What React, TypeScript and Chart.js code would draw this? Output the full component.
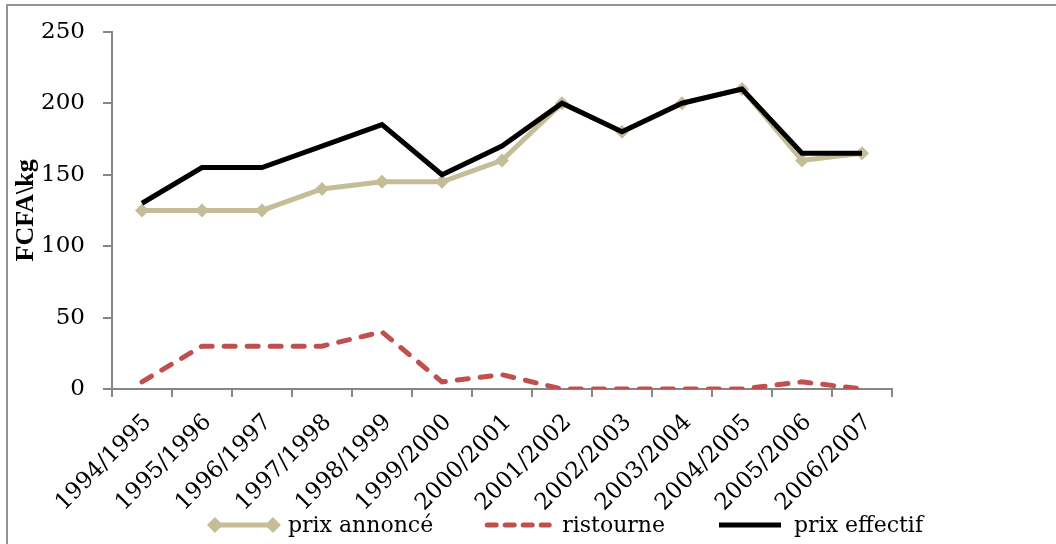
import React, { useEffect, useRef } from "react";
import { Chart, registerables } from "chart.js";

Chart.register(...registerables);

const categories = [
  "1994/1995", "1995/1996", "1996/1997", "1997/1998", "1998/1999", "1999/2000",
  "2000/2001", "2001/2002", "2002/2003", "2003/2004", "2004/2005", "2005/2006", "2006/2007",
];
const prixAnnonce = [125, 125, 125, 140, 145, 145, 160, 200, 180, 200, 210, 160, 165];
const ristourne = [5, 30, 30, 30, 40, 5, 10, 0, 0, 0, 0, 5, 0];
const prixEffectif = [130, 155, 155, 170, 185, 150, 170, 200, 180, 200, 210, 165, 165];
const yTicks = [0, 50, 100, 150, 200, 250];
const yTitle = "FCFA\\kg";
const legendOrder = ["prix annoncé", "ristourne", "prix effectif"];

const FONT = "'DejaVu Serif', serif";
const AXIS = "#868686";

const legendPlugin = {
  id: "customLegend",
  afterDraw(chart: any) {
    const ctx = chart.ctx;
    ctx.save();
    ctx.font = `22px ${FONT}`;
    ctx.textBaseline = "middle";
    ctx.fillStyle = "#000";
    const y = 525;
    const sample = 70;
    const gap = 9;
    const spacing = 50;
    const items = legendOrder.map((l) => chart.data.datasets.find((d: any) => d.label === l));
    const widths = items.map((d: any) => sample + gap + ctx.measureText(d.label).width);
    const total = widths.reduce((a: number, b: number) => a + b, 0) + spacing * (items.length - 1);
    let x = 566 - total / 2;
    items.forEach((d: any, i: number) => {
      ctx.save();
      ctx.strokeStyle = d.borderColor;
      ctx.lineWidth = d.borderWidth;
      ctx.lineCap = d.borderCapStyle || "butt";
      ctx.setLineDash(d.borderDash ? [9, 9] : []);
      ctx.beginPath();
      ctx.moveTo(x + 4, y);
      ctx.lineTo(x + sample - 4, y);
      ctx.stroke();
      ctx.setLineDash([]);
      if (d.pointRadius > 0) {
        ctx.fillStyle = d.pointBackgroundColor;
        [x + 6, x + sample - 6].forEach((px) => {
          const r = d.pointRadius + 1;
          ctx.beginPath();
          ctx.moveTo(px, y - r);
          ctx.lineTo(px + r, y);
          ctx.lineTo(px, y + r);
          ctx.lineTo(px - r, y);
          ctx.closePath();
          ctx.fill();
        });
      }
      ctx.restore();
      ctx.fillText(d.label, x + sample + gap, y + 1);
      x += widths[i] + spacing;
    });
    ctx.restore();
  },
};

export default function App() {
  const ref = useRef<HTMLCanvasElement>(null);
  useEffect(() => {
    document.body.style.margin = "0";
    const chart = new Chart(ref.current!, {
      type: "line",
      data: {
        labels: categories,
        datasets: [
          {
            label: "prix annoncé",
            data: prixAnnonce,
            borderColor: "#C4BD97",
            backgroundColor: "#C4BD97",
            pointBackgroundColor: "#C4BD97",
            pointBorderColor: "#C4BD97",
            pointStyle: "rectRot",
            pointRadius: 7,
            pointBorderWidth: 0,
            borderWidth: 5,
            tension: 0,
            order: 3,
          },
          {
            label: "ristourne",
            data: ristourne,
            borderColor: "#C0504D",
            backgroundColor: "#C0504D",
            borderDash: [11, 12],
            borderCapStyle: "round",
            pointRadius: 0,
            borderWidth: 5,
            tension: 0,
            order: 2,
          },
          {
            label: "prix effectif",
            data: prixEffectif,
            borderColor: "#000000",
            backgroundColor: "#000000",
            pointRadius: 0,
            borderWidth: 5,
            tension: 0,
            order: 1,
          },
        ],
      },
      options: {
        animation: false,
        responsive: false,
        layout: { padding: { left: 0, right: 164, top: 31, bottom: 0 } },
        plugins: { legend: { display: false }, tooltip: { enabled: false } },
        scales: {
          x: {
            offset: true,
            grid: { offset: true, drawOnChartArea: false, drawTicks: true, tickLength: 8, color: AXIS, lineWidth: 2 },
            border: { display: true, color: AXIS, width: 2 },
            ticks: {
              color: "#000",
              font: { family: FONT, size: 23 },
              maxRotation: 45,
              minRotation: 45,
              padding: 12,
              labelOffset: 6,
              autoSkip: false,
            },
            afterFit: (s: any) => {
              s.height = 155;
            },
          },
          y: {
            min: 0,
            max: 250,
            afterBuildTicks: (s: any) => {
              s.ticks = yTicks.map((v) => ({ value: v }));
            },
            grid: { drawOnChartArea: false, drawTicks: true, tickLength: 9, color: AXIS, lineWidth: 2 },
            border: { display: true, color: AXIS, width: 2 },
            ticks: { color: "#000", font: { family: FONT, size: 23 }, padding: 18 },
            title: {
              display: true,
              text: yTitle,
              color: "#000",
              font: { family: "'Liberation Serif', serif", size: 26, weight: "bold" },
              padding: { top: 11, bottom: 0 },
            },
            afterFit: (s: any) => {
              s.width = 112;
            },
          },
        },
      },
      plugins: [legendPlugin],
    });
    return () => chart.destroy();
  }, []);
  return (
    <div style={{ position: "relative", width: 1056, height: 544, overflow: "hidden", background: "#fff" }}>
      <div
        style={{
          position: "absolute",
          left: 6,
          top: 4,
          width: 1100,
          height: 600,
          border: "2px solid #939393",
          boxSizing: "border-box",
        }}
      />
      <canvas ref={ref} width={1056} height={544} style={{ position: "absolute", left: 0, top: 0 }} />
    </div>
  );
}
